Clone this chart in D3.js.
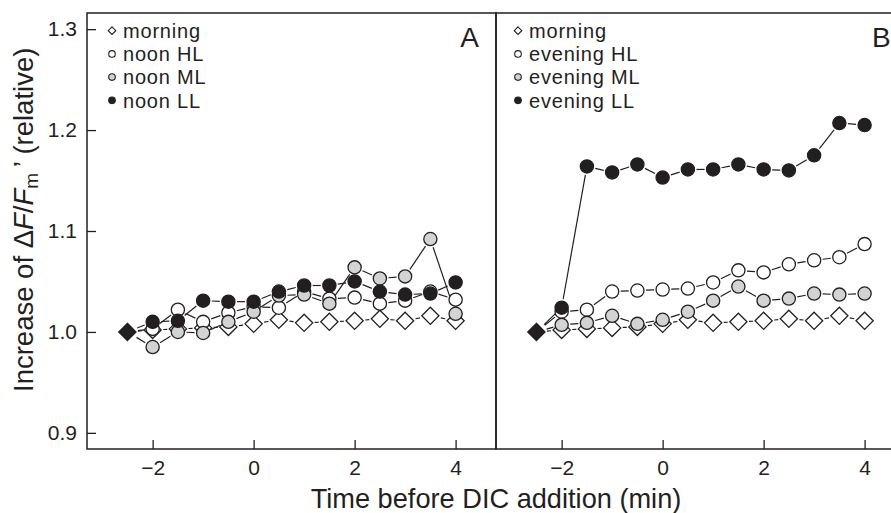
<!DOCTYPE html>
<html>
<head>
<meta charset="utf-8">
<script src="https://cdn.jsdelivr.net/npm/d3@7"></script>
<style>
  body { margin: 0; background: #fff; }
  svg { display: block; font-family: "Liberation Sans", Arial, sans-serif; }
</style>
</head>
<body>
<svg id="chart" width="891" height="513"></svg>
<script>
// time points (min before DIC addition)
const times = [-2.5, -2, -1.5, -1, -0.5, 0, 0.5, 1, 1.5, 2, 2.5, 3, 3.5, 4];

// relative increase of dF/Fm'
const morning   = [1.000, 1.002, 1.003, 1.004, 1.005, 1.008, 1.012, 1.009, 1.010, 1.011, 1.013, 1.011, 1.016, 1.011];
const noonHL    = [1.000, 1.003, 1.022, 1.010, 1.019, 1.025, 1.024, 1.040, 1.033, 1.034, 1.028, 1.031, 1.040, 1.032];
const noonML    = [1.000, 0.985, 1.000, 0.999, 1.010, 1.020, 1.036, 1.037, 1.028, 1.064, 1.053, 1.055, 1.092, 1.018];
const noonLL    = [1.000, 1.010, 1.011, 1.031, 1.030, 1.030, 1.040, 1.046, 1.046, 1.050, 1.040, 1.037, 1.038, 1.049];
const eveningHL = [1.000, 1.020, 1.022, 1.040, 1.041, 1.042, 1.043, 1.049, 1.061, 1.059, 1.067, 1.071, 1.074, 1.087];
const eveningML = [1.000, 1.007, 1.009, 1.016, 1.008, 1.012, 1.020, 1.031, 1.045, 1.031, 1.033, 1.038, 1.037, 1.038];
const eveningLL = [1.000, 1.024, 1.164, 1.158, 1.166, 1.153, 1.161, 1.161, 1.166, 1.161, 1.160, 1.175, 1.207, 1.205];

const xTicks = [-2, 0, 2, 4];
const yTicks = [0.9, 1.0, 1.1, 1.2, 1.3];

const INK = "#231f20";
const GREY = "#d1d3d4";

const panels = [
    { letter: "A", x0: 87, x1: 496, anchor: "end", letterX: 479,
      series: [
        { name: "morning", values: morning, shape: "diamond", fill: "#fff" },
        { name: "noon HL", values: noonHL, shape: "circle", fill: "#fff" },
        { name: "noon ML", values: noonML, shape: "circle", fill: GREY },
        { name: "noon LL", values: noonLL, shape: "circle", fill: INK }
      ] },
    { letter: "B", x0: 496, x1: 905, anchor: "start", letterX: 872,
      series: [
        { name: "morning", values: morning, shape: "diamond", fill: "#fff" },
        { name: "evening HL", values: eveningHL, shape: "circle", fill: "#fff" },
        { name: "evening ML", values: eveningML, shape: "circle", fill: GREY },
        { name: "evening LL", values: eveningLL, shape: "circle", fill: INK }
      ] }
];

const plotTop = 13, plotBottom = 449;
const R = 6.6;      // circle radius
const D = 8.6;      // diamond half-diagonal
const GAP = 3;      // white gap between line and marker

const svg = d3.select("#chart");

const yScale = d3.scaleLinear().domain([0.884, 1.316]).range([plotBottom, plotTop]);

function markerSize(shape) { return shape === "diamond" ? D : R; }

function diamondPath(cx, cy, h) {
    return `M${cx},${cy - h}L${cx + h},${cy}L${cx},${cy + h}L${cx - h},${cy}Z`;
}

panels.forEach((p, pi) => {
    const xScale = d3.scaleLinear().domain([-3.3, 4.8]).range([p.x0, p.x1]);
    const g = svg.append("g");

    // connecting segments, cut short near each marker
    p.series.forEach(s => {
        const pts = times.map((t, i) => [xScale(t), yScale(s.values[i])]);
        for (let i = 0; i < pts.length - 1; i++) {
            const [ax, ay] = pts[i], [bx, by] = pts[i + 1];
            const len = Math.hypot(bx - ax, by - ay);
            const g0 = (i === 0 ? D : markerSize(s.shape)) + GAP - 1;
            const g1 = markerSize(s.shape) + GAP - 1;
            if (len <= g0 + g1) continue;
            const ux = (bx - ax) / len, uy = (by - ay) / len;
            g.append("line")
                .attr("x1", ax + ux * g0).attr("y1", ay + uy * g0)
                .attr("x2", bx - ux * g1).attr("y2", by - uy * g1)
                .attr("stroke", INK)
                .attr("stroke-width", 1.2);
        }
    });

    // markers (skip shared starting point)
    p.series.forEach(s => {
        times.forEach((t, i) => {
            if (i === 0) return;
            const cx = xScale(t), cy = yScale(s.values[i]);
            if (s.shape === "diamond") {
                g.append("path")
                    .attr("d", diamondPath(cx, cy, D))
                    .attr("fill", s.fill).attr("stroke", INK).attr("stroke-width", 1.3);
            } else {
                g.append("circle")
                    .attr("cx", cx).attr("cy", cy).attr("r", R)
                    .attr("fill", s.fill).attr("stroke", INK).attr("stroke-width", 1.3);
            }
        });
    });

    // black starting diamond
    g.append("path")
        .attr("d", diamondPath(xScale(times[0]), yScale(morning[0]), D))
        .attr("fill", INK).attr("stroke", INK).attr("stroke-width", 1.3);

    // x axis
    const xAxis = svg.append("g")
        .attr("transform", `translate(0,${plotBottom})`)
        .call(d3.axisBottom(xScale).tickValues(xTicks).tickSize(-9).tickPadding(11));
    xAxis.select(".domain").remove();
    xAxis.selectAll("line").attr("stroke", INK).attr("stroke-width", 1.3);
    xAxis.selectAll("text").attr("font-size", 21).attr("fill", INK)
        .attr("font-family", "'Liberation Sans', Arial, sans-serif");

    if (pi === 0) {
        const yAxis = svg.append("g")
            .attr("transform", `translate(${p.x0},0)`)
            .call(d3.axisLeft(yScale).tickValues(yTicks).tickSize(-9).tickPadding(10)
                .tickFormat(d3.format(".1f")));
        yAxis.select(".domain").remove();
        yAxis.selectAll("line").attr("stroke", INK).attr("stroke-width", 1.3);
        yAxis.selectAll("text").attr("font-size", 21).attr("fill", INK)
            .attr("font-family", "'Liberation Sans', Arial, sans-serif");
    }

    // frame
    svg.append("rect")
        .attr("x", p.x0).attr("y", plotTop)
        .attr("width", p.x1 - p.x0).attr("height", plotBottom - plotTop)
        .attr("fill", "none").attr("stroke", INK).attr("stroke-width", 1.5);

    // panel letter
    svg.append("text")
        .attr("x", p.letterX).attr("y", 47)
        .attr("text-anchor", p.anchor)
        .attr("font-size", 28).attr("fill", INK)
        .text(p.letter);

    // legend
    const lx = p.x0 + (pi === 0 ? 25 : 22);
    p.series.forEach((s, i) => {
        const ly = 30.7 + i * 23.2;
        if (s.shape === "diamond") {
            svg.append("path").attr("d", diamondPath(lx, ly, 3.8))
                .attr("fill", "#fff").attr("stroke", INK).attr("stroke-width", 1.1);
        } else {
            svg.append("circle").attr("cx", lx).attr("cy", ly).attr("r", 3.3)
                .attr("fill", s.fill).attr("stroke", INK).attr("stroke-width", 1.1);
        }
        svg.append("text")
            .attr("x", lx + 11).attr("y", ly + 7.2)
            .attr("font-size", 20).attr("letter-spacing", 0.8).attr("fill", INK)
            .text(s.name);
    });
});

// axis titles
svg.append("text")
    .attr("x", 496).attr("y", 508)
    .attr("text-anchor", "middle")
    .attr("font-size", 27.2).attr("fill", INK)
    .text("Time before DIC addition (min)");

const yt = svg.append("text")
    .attr("transform", "translate(33,392) rotate(-90)")
    .attr("font-size", 27.5).attr("fill", INK);
yt.append("tspan").text("Increase of \u0394");
yt.append("tspan").attr("font-style", "italic").text("F");
yt.append("tspan").text("/");
yt.append("tspan").attr("font-style", "italic").text("F");
yt.append("tspan").attr("font-size", 19).attr("dy", 5).text("m");
yt.append("tspan").attr("dy", -5).text("\u2009\u2019 (relative)");
</script>
</body>
</html>
